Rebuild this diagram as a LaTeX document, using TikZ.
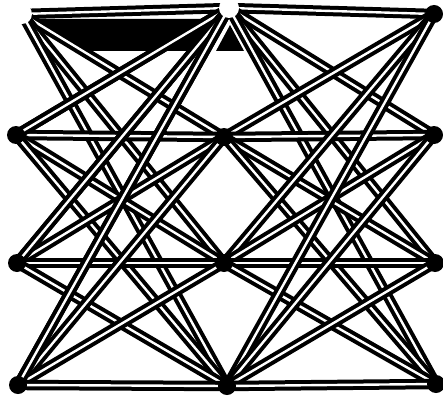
\documentclass[tikz,border=0pt]{standalone}
\pgfdeclarelayer{bg}
\pgfsetlayers{bg,main}
\begin{document}
\begin{tikzpicture}[x=1pt,y=-1pt,
  edge/.style={draw=black,line width=4pt,double=white,double distance=2.4pt},
  vtx/.style={circle,fill=black,inner sep=0pt,minimum size=18pt},
  faded/.style={circle,fill=white,inner sep=0pt,minimum size=20pt},
  blot/.style={fill=black}]
\useasboundingbox (0,0) rectangle (443,398);
% vertices: column a (left), b (middle), c (right)
\node[faded] (a1) at (22,14) {};
\node[vtx] (a2) at (16,135) {};
\node[vtx] (a3) at (17,263) {};
\node[vtx] (a4) at (18,385) {};
\node[faded] (b1) at (229,8) {};
\node[vtx] (b2) at (224,137) {};
\node[vtx] (b3) at (224,263) {};
\node[vtx] (b4) at (227,386) {};
\node[vtx] (c1) at (434,14) {};
\node[vtx] (c2) at (434,135) {};
\node[vtx] (c3) at (435,263) {};
\node[vtx] (c4) at (436,384) {};
\begin{pgfonlayer}{bg}
  \foreach \i in {1,2,3,4}{
    \foreach \j in {1,2,3,4}{
      \draw[edge] (a\i.center) -- (b\j.center);
      \draw[edge] (b\i.center) -- (c\j.center);
    }
  }
  % dark blots of the print
  \fill[blot] (36,19) -- (222,19) -- (207,51) -- (87,51) -- cycle;
  \fill[blot] (216,51) -- (230,25) -- (244,51) -- cycle;
  \foreach \j in {2,3,4}{
    \draw[edge] (b1.center) -- (a\j.center);
  }
\end{pgfonlayer}
\end{tikzpicture}
\end{document}
